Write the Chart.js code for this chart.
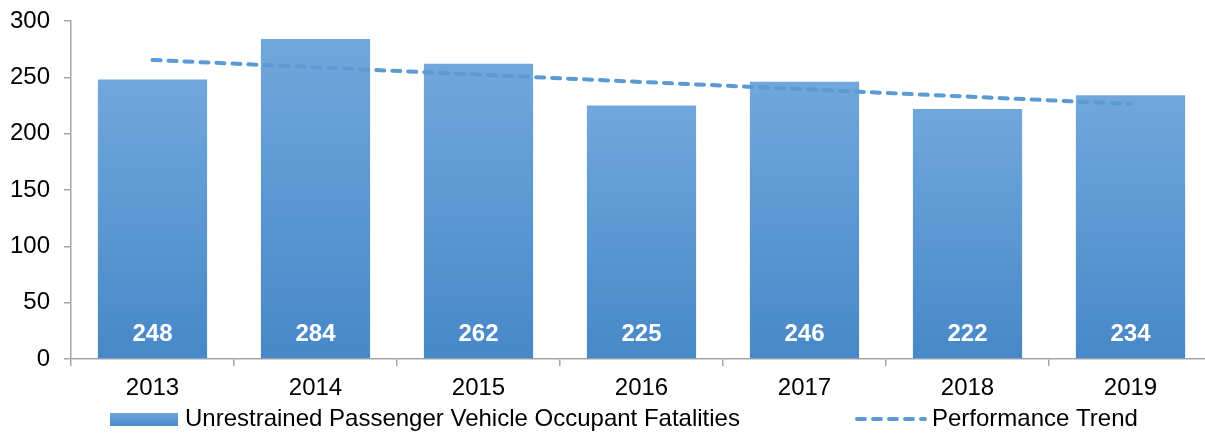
<!DOCTYPE html>
<html><head><meta charset="utf-8">
<script src="https://cdn.jsdelivr.net/npm/chart.js@4.4.1/dist/chart.umd.min.js"></script>
<style>html,body{margin:0;padding:0;background:#fff;overflow:hidden}#wrap{width:1205px;height:434px;position:relative;overflow:hidden}</style>
</head><body><div id="wrap"><canvas id="c" width="1212" height="434"></canvas></div>
<script>
const years = ['2013','2014','2015','2016','2017','2018','2019'];
const fatalities = [248, 284, 262, 225, 246, 222, 234];
const trend = [265.4, 258.9, 252.4, 245.9, 239.4, 232.9, 226.4];
const yTicks = [0, 50, 100, 150, 200, 250, 300];
const barName = 'Unrestrained Passenger Vehicle Occupant Fatalities';
const trendName = 'Performance Trend';

const FONT = "'Liberation Sans', Arial, sans-serif";
const AXIS = '#A6A6A6';
const TOP_C = '#71A7DC', BOT_C = '#4788C8', LINE_C = '#5B9BD5';

function barGradient(ctx) {
  const chart = ctx.chart;
  if (!chart.chartArea || ctx.type !== 'data') return LINE_C;
  const y = chart.scales.y;
  const top = y.getPixelForValue(ctx.raw), bot = y.getPixelForValue(0);
  const g = chart.ctx.createLinearGradient(0, top, 0, bot);
  g.addColorStop(0, TOP_C); g.addColorStop(1, BOT_C);
  return g;
}

const labelsPlugin = {
  id: 'barLabels',
  afterDatasetsDraw(chart) {
    const ctx = chart.ctx, meta = chart.getDatasetMeta(0), y = chart.scales.y;
    ctx.save();
    ctx.font = 'bold 24px ' + FONT;
    ctx.fillStyle = '#FFFFFF';
    ctx.textAlign = 'center'; ctx.textBaseline = 'middle';
    meta.data.forEach((el, i) => {
      ctx.fillText(String(chart.data.datasets[0].data[i]), el.x, y.getPixelForValue(0) - 25);
    });
    ctx.restore();
  }
};

const legendPlugin = {
  id: 'customLegend',
  afterDraw(chart) {
    const ctx = chart.ctx;
    const ds = chart.data.datasets;
    ctx.save();
    ctx.font = '24px ' + FONT;
    ctx.textBaseline = 'middle'; ctx.textAlign = 'left';
    const g = ctx.createLinearGradient(0, 413, 0, 426);
    g.addColorStop(0, TOP_C); g.addColorStop(1, BOT_C);
    ctx.fillStyle = g;
    ctx.fillRect(110, 413, 68, 13);
    ctx.fillStyle = '#000';
    ctx.fillText(ds[0].label, 185, 419);
    ctx.strokeStyle = LINE_C; ctx.lineWidth = 4; ctx.lineCap = 'round';
    ctx.setLineDash([8, 8]);
    ctx.beginPath(); ctx.moveTo(857, 419); ctx.lineTo(925, 419); ctx.stroke();
    ctx.setLineDash([]);
    ctx.fillText(ds[1].label, 932, 419);
    ctx.restore();
  }
};

new Chart(document.getElementById('c'), {
  data: {
    labels: years,
    datasets: [
      { type: 'bar', label: barName, data: fatalities, backgroundColor: barGradient,
        borderWidth: 0, categoryPercentage: 1, barPercentage: 0.67, order: 2 },
      { type: 'line', label: trendName, data: trend, borderColor: LINE_C, borderWidth: 4,
        borderDash: [8, 8], borderCapStyle: 'round', pointRadius: 0, fill: false,
        tension: 0, order: 1 }
    ]
  },
  options: {
    responsive: false, animation: false,
    layout: { padding: { top: 21, right: 0, bottom: 35, left: 0 } },
    plugins: { legend: { display: false }, tooltip: { enabled: false } },
    scales: {
      x: {
        offset: true,
        grid: { offset: true, drawOnChartArea: false, drawTicks: true, tickLength: 7, color: AXIS, lineWidth: 1.5 },
        border: { color: AXIS, width: 1.5 },
        ticks: { color: '#000', font: { family: FONT, size: 24 }, padding: 8, maxRotation: 0 },
        afterFit(s) { s.height = 40; s.paddingLeft = 0; s.paddingRight = 0; }
      },
      y: {
        min: 0, max: 300,
        afterBuildTicks(s) { s.ticks = yTicks.map(v => ({ value: v })); },
        grid: { drawOnChartArea: false, drawTicks: true, tickLength: 7, color: AXIS, lineWidth: 1.5 },
        border: { color: AXIS, width: 1.5 },
        ticks: { color: '#000', font: { family: FONT, size: 24 }, padding: 14 },
        afterFit(s) { s.width = 71; s.paddingTop = 0; s.paddingBottom = 0; }
      }
    }
  },
  plugins: [labelsPlugin, legendPlugin]
});
</script></body></html>
